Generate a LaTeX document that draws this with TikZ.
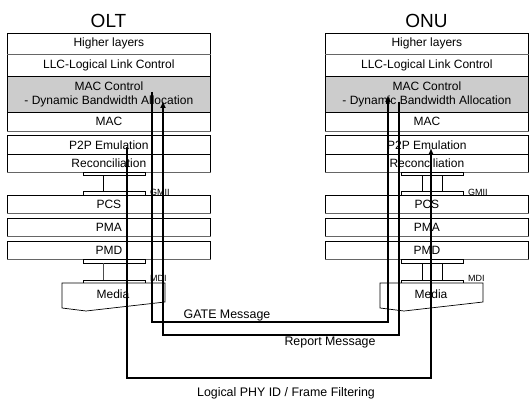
\documentclass[tikz,border=0pt]{standalone}
\usepackage{fontspec}
\setmainfont{Liberation Sans}
\usetikzlibrary{arrows.meta}
\begin{document}
\begin{tikzpicture}[x=1pt,y=-1pt,
  layer/.style={draw, line width=0.7pt, fill=white, anchor=north west, minimum width=203pt,
    inner sep=0pt, font=\fontsize{12}{13.5}\selectfont, align=center},
  shaded/.style={fill=black!20},
  sepline/.style={line width=1.5pt, black!60},
  iface/.style={draw, line width=0.6pt, fill=white},
  link/.style={line width=0.7pt},
  sig/.style={line width=1.6pt},
  sigarrow/.style={sig, -{Latex[length=7pt,width=6pt]}},
  lbl/.style={font=\fontsize{12.4}{14}\selectfont, inner sep=0pt},
  small/.style={font=\fontsize{9}{10}\selectfont, anchor=west, inner sep=0pt},
  title/.style={font=\fontsize{19}{22}\selectfont, inner sep=0pt}]
\useasboundingbox (0,0) rectangle (530,401);
\fill[white] (0,0) rectangle (530,401);

\foreach \s/\ox/\t in {olt/0/OLT, onu/318/ONU}{
  \begin{scope}[xshift=\ox pt]
    \node[title] (\s-title) at (108.5,21) {\t};
    \node[layer, minimum height=21pt] (\s-hl) at (7,33) {Higher layers};
    \node[layer, minimum height=22pt] (\s-llc) at (7,54) {LLC-Logical Link Control};
    \node[layer, shaded, minimum height=36pt] (\s-macc) at (7,76) {MAC Control\\- Dynamic Bandwidth Allocation};
    \node[layer, minimum height=19pt] (\s-mac) at (7,112) {MAC};
    \node[layer, minimum height=19pt] (\s-p2p) at (7,135) {P2P Emulation};
    \node[layer, minimum height=18pt] (\s-rec) at (7,154) {Reconciliation};
    \node[layer, minimum height=18pt] (\s-pcs) at (7,195) {PCS};
    \node[layer, minimum height=18pt] (\s-pma) at (7,218) {PMA};
    \node[layer, minimum height=18pt] (\s-pmd) at (7,241) {PMD};
    \foreach \n in {hl,mac,rec,pcs,pma,pmd}{
      \draw[sepline] (\s-\n.south west) -- (\s-\n.south east);
    }
    % GMII interface
    \draw[iface] (83,172) rectangle (145,175);
    \draw[iface] (83,191) rectangle (145,195);
    \node[small] (\s-gmii) at (150,192) {GMII};
    % MDI interface
    \draw[iface] (83,259) rectangle (145,263);
    \draw[iface] (83,280) rectangle (145,283);
    \node[small] (\s-mdi) at (150,278) {MDI};
    % Media
    \draw[link, fill=white] (62,283) -- (165,283) -- (165,302) -- (86,311) -- (62,308) -- cycle;
    \node[font=\fontsize{12}{13.5}\selectfont] (\s-media) at (113,294) {Media};
  \end{scope}
}
% interface links
\draw[link] (103,175) -- (103,191);
\draw[link, black!70] (103,263) -- (103,280);
\draw[link] (422,175) -- (422,191);
\draw[link] (442,175) -- (442,191);
\draw[link] (422,263) -- (422,280);
\draw[link] (442,263) -- (442,280);

% signal paths
\coordinate (gA) at (152,92);
\coordinate (gB) at (388,95);
\coordinate (rA) at (399,102);
\coordinate (rB) at (163,101);
\coordinate (pA) at (127,147);
\coordinate (pB) at (431,148);
\draw[sigarrow] (gA) -- ++(0,230) -| (gB);
\draw[sigarrow] (rA) -- ++(0,233) -| (rB);
\draw[sigarrow] (pA) -- ++(0,231) -| (pB);

\node[lbl] (gate) at (227,315) {GATE Message};
\node[lbl] (report) at (330,343) {Report Message};
\node[lbl] (phy) at (286,393) {Logical PHY ID / Frame Filtering};
\end{tikzpicture}
\end{document}
